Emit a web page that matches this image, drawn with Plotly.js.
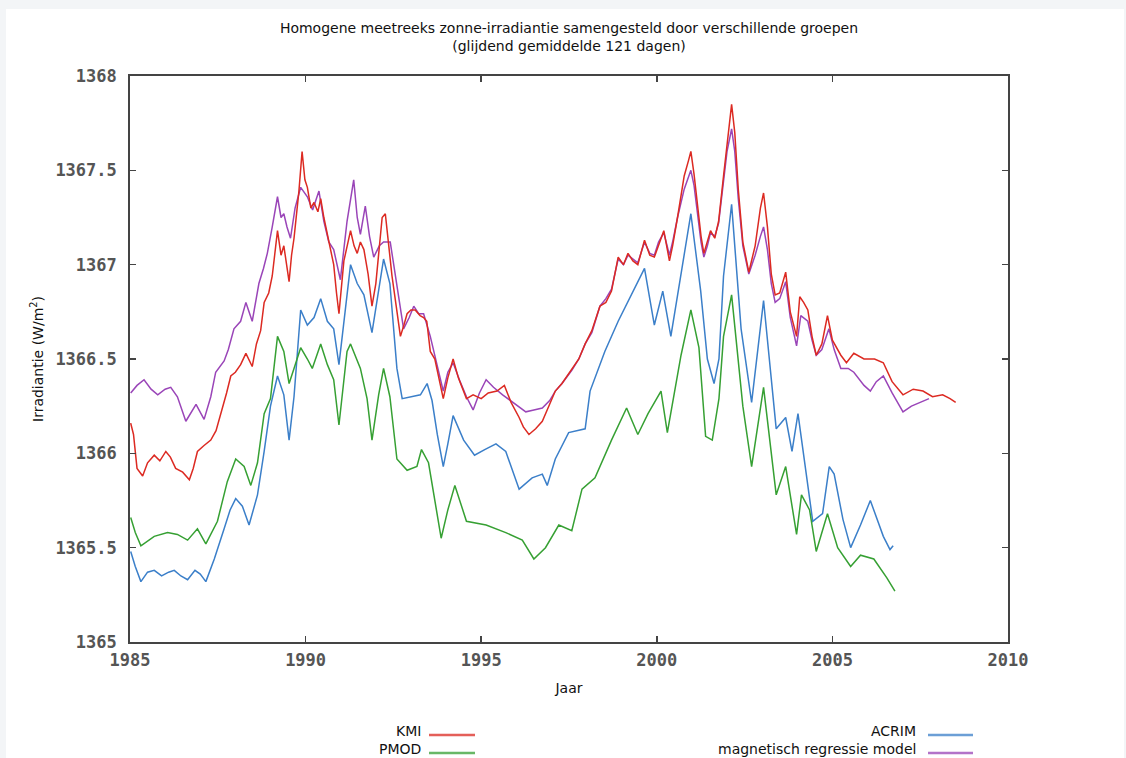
<!DOCTYPE html>
<html>
<head>
<meta charset="utf-8">
<script src="https://cdn.plot.ly/plotly-3.0.1.min.js"></script>
<style>
html,body{margin:0;padding:0;background:#f3f5f7;width:1126px;height:758px;overflow:hidden;}
#chart{position:absolute;left:6px;top:9px;width:1118px;height:749px;background:#fff;}
</style>
</head>
<body>
<div id="chart"></div>
<script>
// ---- data (years, W/m2) ----
const kmiYears = [1985.02,1985.1,1985.2,1985.36,1985.5,1985.69,1985.85,1986.02,1986.15,1986.3,1986.5,1986.69,1986.8,1986.92,1987.1,1987.3,1987.45,1987.59,1987.75,1987.87,1988.0,1988.15,1988.3,1988.48,1988.6,1988.72,1988.82,1988.95,1989.05,1989.2,1989.3,1989.38,1989.46,1989.53,1989.6,1989.67,1989.81,1989.9,1989.98,1990.05,1990.15,1990.24,1990.35,1990.43,1990.52,1990.62,1990.72,1990.8,1990.88,1990.95,1991.09,1991.18,1991.28,1991.38,1991.47,1991.56,1991.66,1991.78,1991.89,1992.0,1992.08,1992.18,1992.27,1992.36,1992.46,1992.58,1992.7,1992.8,1992.89,1993.0,1993.12,1993.26,1993.36,1993.45,1993.55,1993.68,1993.8,1993.92,1994.05,1994.2,1994.35,1994.58,1994.77,1995.0,1995.2,1995.45,1995.66,1995.85,1996.08,1996.2,1996.36,1996.55,1996.74,1996.9,1997.11,1997.3,1997.58,1997.78,1997.96,1998.15,1998.38,1998.55,1998.71,1998.9,1999.05,1999.18,1999.32,1999.46,1999.65,1999.8,1999.93,2000.05,2000.2,2000.36,2000.45,2000.59,2000.78,2000.9,2000.97,2001.06,2001.16,2001.26,2001.34,2001.44,2001.53,2001.65,2001.76,2001.9,2002.0,2002.13,2002.22,2002.32,2002.45,2002.62,2002.8,2002.95,2003.04,2003.15,2003.26,2003.37,2003.5,2003.67,2003.8,2003.98,2004.07,2004.18,2004.3,2004.42,2004.54,2004.7,2004.86,2005.0,2005.24,2005.4,2005.61,2005.9,2006.2,2006.45,2006.7,2007.01,2007.3,2007.58,2007.85,2008.14,2008.35,2008.51];
const kmiValues = [1366.16,1366.1,1365.92,1365.88,1365.95,1365.99,1365.96,1366.01,1365.98,1365.92,1365.9,1365.86,1365.92,1366.01,1366.04,1366.07,1366.12,1366.21,1366.32,1366.41,1366.43,1366.47,1366.53,1366.46,1366.58,1366.65,1366.8,1366.85,1366.94,1367.18,1367.05,1367.1,1367.0,1366.91,1367.05,1367.14,1367.39,1367.6,1367.45,1367.41,1367.3,1367.33,1367.28,1367.35,1367.25,1367.16,1367.08,1367.0,1366.85,1366.74,1367.02,1367.1,1367.18,1367.1,1367.06,1367.12,1367.08,1366.95,1366.78,1366.9,1367.06,1367.25,1367.27,1367.1,1366.94,1366.78,1366.62,1366.68,1366.74,1366.76,1366.76,1366.73,1366.72,1366.7,1366.54,1366.5,1366.4,1366.29,1366.4,1366.5,1366.4,1366.29,1366.31,1366.29,1366.32,1366.33,1366.36,1366.27,1366.19,1366.14,1366.1,1366.13,1366.17,1366.24,1366.33,1366.37,1366.45,1366.5,1366.58,1366.65,1366.78,1366.8,1366.86,1367.04,1367.0,1367.06,1367.02,1367.0,1367.13,1367.05,1367.04,1367.1,1367.18,1367.02,1367.1,1367.25,1367.47,1367.55,1367.6,1367.48,1367.3,1367.15,1367.06,1367.12,1367.18,1367.14,1367.23,1367.47,1367.65,1367.85,1367.7,1367.4,1367.12,1366.96,1367.1,1367.3,1367.38,1367.2,1366.95,1366.84,1366.85,1366.96,1366.75,1366.62,1366.83,1366.8,1366.76,1366.62,1366.52,1366.58,1366.73,1366.6,1366.52,1366.48,1366.53,1366.5,1366.5,1366.48,1366.38,1366.31,1366.34,1366.33,1366.3,1366.31,1366.29,1366.27];

const acrimYears = [1985.02,1985.15,1985.31,1985.5,1985.69,1985.9,1986.1,1986.26,1986.45,1986.64,1986.85,1987.0,1987.16,1987.4,1987.68,1987.85,1988.01,1988.2,1988.39,1988.63,1988.82,1989.0,1989.2,1989.38,1989.53,1989.67,1989.86,1990.05,1990.24,1990.43,1990.62,1990.8,1990.95,1991.18,1991.28,1991.47,1991.66,1991.89,1992.13,1992.22,1992.4,1992.6,1992.75,1993.0,1993.27,1993.46,1993.6,1993.75,1993.92,1994.05,1994.2,1994.5,1994.81,1995.1,1995.42,1995.7,1996.08,1996.45,1996.74,1996.88,1997.11,1997.49,1997.96,1998.1,1998.52,1998.9,1999.28,1999.65,1999.93,2000.17,2000.4,2000.69,2000.97,2001.25,2001.44,2001.63,2001.77,2001.9,2002.13,2002.4,2002.7,2003.04,2003.2,2003.4,2003.67,2003.85,2004.02,2004.25,2004.44,2004.72,2004.91,2005.05,2005.3,2005.52,2005.8,2006.08,2006.45,2006.64,2006.73];
const acrimValues = [1365.48,1365.4,1365.32,1365.37,1365.38,1365.35,1365.37,1365.38,1365.35,1365.33,1365.38,1365.36,1365.32,1365.44,1365.6,1365.7,1365.76,1365.72,1365.62,1365.78,1366.01,1366.25,1366.41,1366.31,1366.07,1366.3,1366.76,1366.68,1366.72,1366.82,1366.7,1366.66,1366.47,1366.86,1367.0,1366.9,1366.84,1366.64,1366.94,1367.03,1366.9,1366.45,1366.29,1366.3,1366.31,1366.37,1366.28,1366.1,1365.93,1366.05,1366.2,1366.07,1365.99,1366.02,1366.05,1366.01,1365.81,1365.87,1365.89,1365.83,1365.97,1366.11,1366.13,1366.33,1366.54,1366.7,1366.84,1366.98,1366.68,1366.86,1366.62,1366.94,1367.27,1366.86,1366.5,1366.37,1366.5,1366.94,1367.32,1366.66,1366.27,1366.81,1366.5,1366.13,1366.19,1366.01,1366.21,1365.9,1365.64,1365.68,1365.93,1365.89,1365.65,1365.5,1365.62,1365.75,1365.56,1365.49,1365.51];

const pmodYears = [1985.02,1985.15,1985.31,1985.69,1986.07,1986.35,1986.64,1986.92,1987.16,1987.49,1987.77,1988.01,1988.25,1988.44,1988.63,1988.82,1989.0,1989.2,1989.38,1989.53,1989.67,1989.86,1990.05,1990.19,1990.43,1990.62,1990.8,1990.95,1991.18,1991.28,1991.56,1991.75,1991.89,1992.08,1992.22,1992.4,1992.6,1992.89,1993.17,1993.3,1993.5,1993.68,1993.86,1994.05,1994.25,1994.58,1995.14,1995.7,1996.17,1996.5,1996.83,1997.21,1997.58,1997.87,1998.24,1998.71,1999.14,1999.46,1999.75,2000.12,2000.3,2000.69,2000.97,2001.2,2001.39,2001.58,2001.77,2001.9,2002.13,2002.45,2002.7,2003.04,2003.4,2003.67,2003.98,2004.12,2004.35,2004.54,2004.86,2005.15,2005.52,2005.8,2006.18,2006.55,2006.78];
const pmodValues = [1365.66,1365.58,1365.51,1365.56,1365.58,1365.57,1365.54,1365.6,1365.52,1365.64,1365.85,1365.97,1365.93,1365.83,1365.95,1366.21,1366.29,1366.62,1366.54,1366.37,1366.45,1366.56,1366.5,1366.45,1366.58,1366.47,1366.39,1366.15,1366.54,1366.58,1366.45,1366.29,1366.07,1366.31,1366.45,1366.3,1365.97,1365.91,1365.93,1366.02,1365.95,1365.75,1365.55,1365.7,1365.83,1365.64,1365.62,1365.58,1365.54,1365.44,1365.5,1365.62,1365.59,1365.81,1365.87,1366.07,1366.24,1366.1,1366.21,1366.33,1366.11,1366.52,1366.76,1366.56,1366.09,1366.07,1366.29,1366.62,1366.84,1366.25,1365.93,1366.35,1365.78,1365.93,1365.57,1365.78,1365.7,1365.48,1365.68,1365.5,1365.4,1365.46,1365.44,1365.34,1365.27];

const modelYears = [1985.02,1985.2,1985.4,1985.6,1985.79,1986.0,1986.16,1986.35,1986.59,1986.75,1986.88,1987.11,1987.3,1987.44,1987.68,1987.8,1987.96,1988.15,1988.3,1988.48,1988.67,1988.8,1988.91,1989.05,1989.2,1989.3,1989.38,1989.47,1989.57,1989.7,1989.86,1990.05,1990.2,1990.38,1990.52,1990.66,1990.8,1990.99,1991.1,1991.18,1991.37,1991.47,1991.56,1991.7,1991.82,1991.94,1992.1,1992.22,1992.41,1992.6,1992.79,1992.95,1993.08,1993.22,1993.36,1993.55,1993.68,1993.8,1993.92,1994.05,1994.2,1994.4,1994.58,1994.77,1994.95,1995.14,1995.35,1995.61,1995.9,1996.27,1996.5,1996.74,1996.95,1997.11,1997.3,1997.58,1997.78,1997.96,1998.15,1998.38,1998.55,1998.71,1998.9,1999.05,1999.18,1999.32,1999.46,1999.65,1999.8,1999.93,2000.05,2000.2,2000.36,2000.45,2000.59,2000.78,2000.97,2001.06,2001.16,2001.26,2001.34,2001.44,2001.53,2001.65,2001.76,2001.9,2002.0,2002.13,2002.22,2002.32,2002.45,2002.62,2002.8,2002.95,2003.04,2003.15,2003.26,2003.37,2003.5,2003.67,2003.8,2003.98,2004.1,2004.3,2004.42,2004.54,2004.7,2004.9,2005.05,2005.24,2005.45,2005.61,2005.9,2006.08,2006.25,2006.45,2006.7,2007.01,2007.25,2007.5,2007.75];
const modelValues = [1366.32,1366.36,1366.39,1366.34,1366.31,1366.34,1366.35,1366.3,1366.17,1366.22,1366.26,1366.18,1366.3,1366.43,1366.49,1366.55,1366.66,1366.7,1366.8,1366.7,1366.9,1366.98,1367.06,1367.2,1367.36,1367.25,1367.27,1367.2,1367.14,1367.3,1367.41,1367.36,1367.29,1367.39,1367.23,1367.12,1367.08,1366.92,1367.1,1367.23,1367.45,1367.25,1367.16,1367.31,1367.15,1367.04,1367.1,1367.12,1367.12,1366.9,1366.66,1366.72,1366.78,1366.74,1366.74,1366.62,1366.52,1366.42,1366.33,1366.43,1366.48,1366.38,1366.3,1366.23,1366.32,1366.39,1366.35,1366.31,1366.27,1366.22,1366.23,1366.24,1366.28,1366.33,1366.37,1366.44,1366.5,1366.58,1366.64,1366.78,1366.82,1366.87,1367.03,1367.0,1367.05,1367.03,1367.01,1367.12,1367.06,1367.05,1367.12,1367.17,1367.05,1367.12,1367.25,1367.4,1367.5,1367.42,1367.28,1367.12,1367.04,1367.1,1367.17,1367.15,1367.22,1367.45,1367.6,1367.72,1367.6,1367.35,1367.1,1366.95,1367.05,1367.15,1367.2,1367.08,1366.9,1366.8,1366.82,1366.91,1366.72,1366.57,1366.73,1366.7,1366.6,1366.52,1366.55,1366.66,1366.55,1366.45,1366.45,1366.43,1366.36,1366.33,1366.38,1366.41,1366.32,1366.22,1366.25,1366.27,1366.29];

const seriesNames = ['KMI','ACRIM','PMOD','magnetisch regressie model'];
const seriesColors = ['#dc2a22','#3b7fc9','#36a033','#9a45b8'];
const xTickVals = [1985,1990,1995,2000,2005,2010];
const yTickVals = [1365,1365.5,1366,1366.5,1367,1367.5,1368];
const yTickText = ['1365','1365.5','1366','1366.5','1367','1367.5','1368'];

const xs = [kmiYears, acrimYears, pmodYears, modelYears];
const ys = [kmiValues, acrimValues, pmodValues, modelValues];

const order = [3,0,1,2];
const traces = order.map(i => ({
  x: xs[i], y: ys[i], type:'scatter', mode:'lines', name: seriesNames[i],
  line:{color: seriesColors[i], width:1.5}, showlegend:false, hoverinfo:'x+y+name'
}));

const W = 1118, H = 749;
const M = {l:124, r:116, t:67, b:116};
const PW = W - M.l - M.r, PH = H - M.t - M.b;
const px = x => (x - 6 - M.l) / PW;
const py = y => 1 - (y - 9 - M.t) / PH;

const tickFont = {family:'DejaVu Sans Mono, monospace', size:17, color:'#555', weight:'bold'};
const txtFont = {family:'DejaVu Sans, sans-serif', size:14, color:'#111'};

const legendItems = [
  {i:0, tx:423, ly:731, lx0:429, lx1:475},
  {i:2, tx:423, ly:749, lx0:429, lx1:475},
  {i:1, tx:918, ly:731, lx0:928, lx1:973},
  {i:3, tx:918, ly:749, lx0:928, lx1:973}
];
const annotations = legendItems.map(it => ({
  xref:'paper', yref:'paper', x: px(it.tx), y: py(it.ly), xanchor:'right', yanchor:'middle',
  text: seriesNames[it.i], showarrow:false, font: txtFont
}));
const shapes = legendItems.map(it => ({
  type:'line', xref:'paper', yref:'paper', x0: px(it.lx0), x1: px(it.lx1),
  y0: py(it.ly + 4), y1: py(it.ly + 4), line:{color: seriesColors[it.i], width:2.5}, opacity:0.75
}));

const layout = {
  width: W, height: H,
  margin: M,
  paper_bgcolor:'#ffffff', plot_bgcolor:'#ffffff',
  title: {
    text:'Homogene meetreeks zonne-irradiantie samengesteld door verschillende groepen<br>(glijdend gemiddelde 121 dagen)',
    font: txtFont, x: px(569), xref:'paper', xanchor:'center',
    y: 1 - 24/H, yref:'container', yanchor:'top'
  },
  xaxis: {
    range:[1985,2010], tickvals: xTickVals, ticks:'inside', ticklen:6, tickwidth:1.5, tickcolor:'#444',
    showline:true, linecolor:'#444', linewidth:1.8, mirror:'ticks', showgrid:false, zeroline:false,
    tickfont: tickFont, ticklabelstandoff: 2,
    title:{text:'Jaar', font: txtFont, standoff: 14}
  },
  yaxis: {
    range:[1365,1368], tickvals: yTickVals, ticktext: yTickText, ticks:'inside', ticklen:6, tickwidth:1.5, tickcolor:'#444',
    showline:true, linecolor:'#444', linewidth:1.8, mirror:'ticks', showgrid:false, zeroline:false,
    tickfont: tickFont, ticklabelstandoff: 8,
    title:{text:'Irradiantie (W/m<sup>2</sup>)', font: txtFont, standoff: 8}
  },
  annotations: annotations,
  shapes: shapes
};

Plotly.newPlot('chart', traces, layout, {displayModeBar:false, staticPlot:true});
</script>
</body>
</html>
